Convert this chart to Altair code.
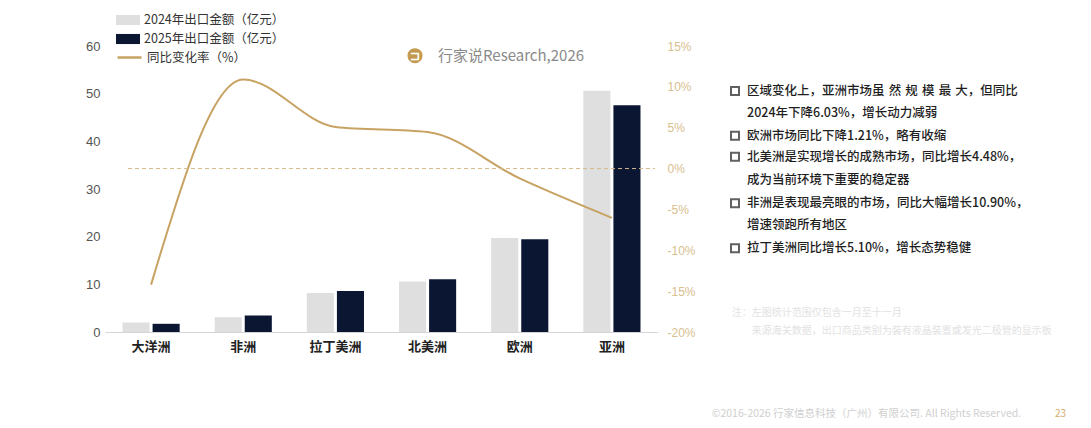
import altair as alt
import pandas as pd

FONT = "Noto Sans CJK SC"
NUMFONT = "Liberation Sans"

regions = ["大洋洲", "非洲", "拉丁美洲", "北美洲", "欧洲", "亚洲"]
series = ["2024年出口金额（亿元）", "2025年出口金额（亿元）"]
v2024 = [2.0, 3.1, 8.2, 10.6, 19.7, 50.6]
v2025 = [1.72, 3.44, 8.62, 11.07, 19.46, 47.55]
growth = [-14.2, 10.90, 5.10, 4.48, -1.21, -6.03]
line_name = "同比变化率（%）"
left_ticks = [0, 10, 20, 30, 40, 50, 60]
right_ticks = [-20, -15, -10, -5, 0, 5, 10, 15]

bullet_lines = [
    "区域变化上，亚洲市场虽\u2004然\u2004规\u2004模\u2004最\u2004大，但同比",
    "2024年下降6.03%，增长动力减弱",
    "欧洲市场同比下降1.21%，略有收缩",
    "北美洲是实现增长的成熟市场，同比增长4.48%，",
    "成为当前环境下重要的稳定器",
    "非洲是表现最亮眼的市场，同比大幅增长10.90%，",
    "增速领跑所有地区",
    "拉丁美洲同比增长5.10%，增长态势稳健",
]
bullet_flags = [True, False, True, True, False, True, False, True]
note_label = "注："
note_lines = ["左图统计范围仅包含一月至十一月", "来源海关数据，出口商品类别为装有液晶装置或发光二极管的显示板"]
copyright_text = "©2016-2026 行家信息科技（广州）有限公司. All Rights Reserved."
page_no = "23"
watermark = "行家说Research,2026"

bar_df = pd.DataFrame({
    "region": regions * 2,
    "series": [series[0]] * len(regions) + [series[1]] * len(regions),
    "value": v2024 + v2025,
})
line_df = pd.DataFrame({"region": regions, "growth": growth, "name": [line_name] * len(regions)})

bars = alt.Chart(bar_df).mark_bar().encode(
    x=alt.X("region:N", sort=regions,
            scale=alt.Scale(paddingInner=0.38, paddingOuter=0.19),
            axis=alt.Axis(title=None, labelAngle=0, labelFontSize=13, labelFontWeight="bold",
                          labelColor="#222222", labelPadding=8, domainColor="#d6d6d6",
                          ticks=False, labelFont=FONT)),
    xOffset=alt.XOffset("series:N", sort=series, scale=alt.Scale(paddingInner=0.1)),
    y=alt.Y("value:Q", scale=alt.Scale(domain=[0, 60], nice=False),
            axis=alt.Axis(values=left_ticks, title=None, grid=False, domain=False, ticks=False,
                          labelColor="#555555", labelFontSize=13, labelPadding=5, labelFont=NUMFONT)),
    fill=alt.Fill("series:N", sort=series,
                  scale=alt.Scale(domain=series, range=["#dfdfdf", "#0b1633"]),
                  legend=alt.Legend(title=None, orient="none", legendX=11, legendY=-38,
                                    symbolType="M-1,-0.42H1V0.42H-1Z", symbolSize=576,
                                    symbolStrokeWidth=0, labelFontSize=12.5, labelColor="#333333",
                                    labelFont=FONT, rowPadding=0, padding=0, labelOffset=4)),
)

line = alt.Chart(line_df).mark_line(interpolate="monotone", strokeWidth=2).encode(
    x=alt.X("region:N", sort=regions),
    y=alt.Y("growth:Q", scale=alt.Scale(domain=[-20, 15], nice=False),
            axis=alt.Axis(orient="right", values=right_ticks, labelExpr="datum.value + '%'",
                          title=None, grid=False, domain=False, ticks=False,
                          labelColor="#d8c08f", labelFontSize=12, labelPadding=9, labelFont=NUMFONT)),
    stroke=alt.Stroke("name:N", scale=alt.Scale(domain=[line_name], range=["#c8a263"]),
                      legend=alt.Legend(title=None, orient="none", legendX=11, legendY=-2,
                                        symbolType="stroke", symbolSize=576, symbolStrokeWidth=2.5,
                                        labelFontSize=12.5, labelColor="#333333", labelFont=FONT,
                                        padding=0, labelOffset=4)),
)

zero_rule = alt.Chart(pd.DataFrame({"z": [0]})).mark_rule(
    strokeDash=[4, 3], color="#d6b98a", strokeWidth=1
).encode(
    y=alt.Y("z:Q", scale=alt.Scale(domain=[-20, 15], nice=False), axis=None),
    x=alt.value(23), x2=alt.value(550),
)


def txt(s, x, y, size=12.5, color="#222222", weight="normal", font=FONT, align="left"):
    return alt.Chart(pd.DataFrame({"t": [s]})).mark_text(
        align=align, baseline="middle", fontSize=size, color=color, fontWeight=weight, font=font
    ).encode(x=alt.value(x), y=alt.value(y), text="t:N")


layers = [bars, line, zero_rule]

line_ys = [45, 66.7, 89.7, 110.7, 134, 157.3, 179, 202.3]
for s, flag, yy in zip(bullet_lines, bullet_flags, line_ys):
    layers.append(txt(s, 642, yy, size=12.5, color="#1e1e1e", weight=500))
    if flag:
        layers.append(
            alt.Chart(pd.DataFrame({"b": [1]})).mark_point(
                shape="square", filled=False, strokeWidth=2, size=64, color="#1e1e1e"
            ).encode(x=alt.value(630), y=alt.value(yy))
        )

layers.append(txt(note_label, 626.7, 267.3, size=10, color="#e2e2e2"))
layers.append(txt(note_lines[0], 646.7, 267.3, size=10, color="#e2e2e2"))
layers.append(txt(note_lines[1], 646.7, 284.7, size=10, color="#e2e2e2"))
layers.append(txt(copyright_text, 606.7, 368, size=10.5, color="#cfcfcf"))
layers.append(txt(page_no, 950, 368, size=10, color="#d2ad6a"))

# watermark
layers.append(
    alt.Chart(pd.DataFrame({"c": [1]})).mark_point(shape="circle", filled=True, size=227,
                                                   color="#c39a4e", opacity=1).encode(
        x=alt.value(310), y=alt.value(9.7))
)
layers.append(txt("⊐", 310, 10, size=12, color="#ffffff", weight="bold", align="center"))
layers.append(txt(watermark, 333, 9.7, size=15, color="#8a8a8a"))

chart = alt.layer(*layers).resolve_scale(y="independent").properties(
    width=553, height=286,
    autosize=alt.AutoSizeParams(type="none"),
    padding={"left": 97, "top": 38, "right": 425, "bottom": 88},
    background="#ffffff",
).configure_view(stroke=None)

chart.save("out.html", embed_options={"renderer": "svg", "actions": False})
